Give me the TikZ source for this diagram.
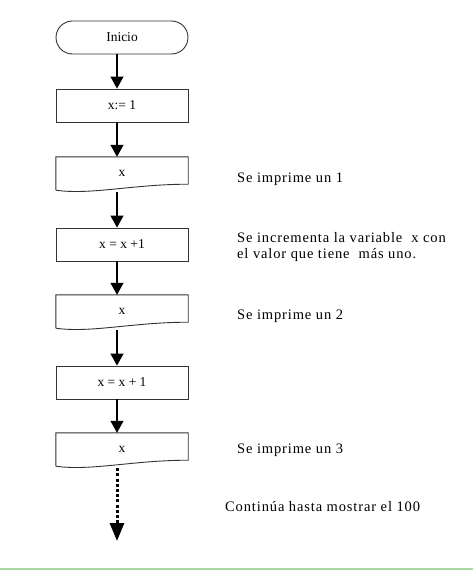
\documentclass[tikz,border=0pt]{standalone}
\usepackage{fontspec}
\setmainfont{Liberation Serif}
\newfontfamily\notefont[LetterSpace=6]{Liberation Serif}
\usetikzlibrary{arrows.meta}

\newcommand{\docoutline}[1]{%
\draw[boxline] (#1.south west) -- (#1.north west) -- (#1.north east) -- ([yshift=6pt]#1.south east)
  .. controls +(-55pt,0pt) and +(35pt,-5pt) .. (#1.south west);}

\begin{document}
\begin{tikzpicture}[x=1pt,y=-1pt,
boxline/.style={draw=black!80, line width=0.9pt},
startnode/.style={rectangle, boxline, rounded corners=16.5pt, minimum width=132pt, minimum height=33pt, inner sep=0pt, font=\fontsize{13.5}{15}\selectfont},
processnode/.style={rectangle, boxline, minimum width=132pt, minimum height=33pt, inner sep=0pt, font=\fontsize{13.5}{15}\selectfont},
docnode/.style={rectangle, minimum width=132pt, minimum height=33pt, inner sep=0pt, font=\fontsize{13.5}{15}\selectfont},
notenode/.style={anchor=west, inner sep=0pt, align=left, font=\notefont\fontsize{14.5}{16.5}\selectfont},
flow/.style={line width=1.2pt, -{Triangle[width=13pt,length=12pt]}},
dotflow/.style={line width=3pt, dash pattern=on 3pt off 2.2pt, -{Triangle[width=14pt,length=18pt]}}
]
\useasboundingbox (0,0) rectangle (473,570);

%Nodes
\node[startnode]   at (122,37.5)  (inicio) {Inicio};
\node[processnode] at (122,105.5) (asig)   {x:= 1};
\node[docnode]     at (122,173.5) (out-1)  {x};
\node[processnode] at (122,244.5) (inc-1)  {x = x +1};
\node[docnode]     at (122,311.5) (out-2)  {x};
\node[processnode] at (122,382.5) (inc-2)  {x = x + 1};
\node[docnode]     at (122,449.5) (out-3)  {x};
\coordinate (fin) at (117,541);

\docoutline{out-1}
\docoutline{out-2}
\docoutline{out-3}

\node[notenode] at (237,179) (nota-1) {Se imprime un 1};
\node[notenode] at (237,247) (nota-2) {Se incrementa la variable \ x con\\el valor que tiene \ más uno.};
\node[notenode] at (237,316) (nota-3) {Se imprime un 2};
\node[notenode] at (237,450) (nota-4) {Se imprime un 3};
\node[notenode] at (225,507) (nota-5) {Continúa hasta mostrar el 100};

%Lines
\draw[flow] ([xshift=-5pt]inicio.south) -- ([xshift=-5pt]asig.north);
\draw[flow] ([xshift=-5pt]asig.south) -- ([xshift=-5pt]out-1.north);
\draw[flow] ([xshift=-5pt,yshift=-2pt]out-1.south) -- ([xshift=-5pt]inc-1.north);
\draw[flow] ([xshift=-5pt]inc-1.south) -- ([xshift=-5pt]out-2.north);
\draw[flow] ([xshift=-5pt,yshift=-2pt]out-2.south) -- ([xshift=-5pt]inc-2.north);
\draw[flow] ([xshift=-5pt]inc-2.south) -- ([xshift=-5pt]out-3.north);
\draw[dotflow] ([xshift=-5pt,yshift=-2pt]out-3.south) -- (fin);

% green rule at the bottom
\draw[line width=2pt, draw={rgb,255:red,170;green,216;blue,160}] (0,569) -- (473,569);
\end{tikzpicture}
\end{document}
